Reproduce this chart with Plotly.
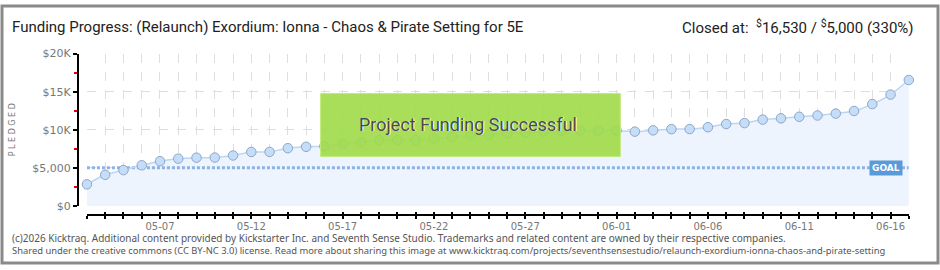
import pandas as pd
import plotly.graph_objects as go

# ---------------- data ----------------
start_date = "2025-05-03"
pledged = [2830, 4080, 4700, 5330, 5870, 6200, 6330, 6350, 6620, 7080,
           7090, 7580, 7760, 7830, 8120, 8370, 8620, 8630, 8640, 8830,
           9040, 9250, 9330, 9500, 9620, 9750, 9870, 9880, 9890, 9900,
           9750, 9920, 10080, 10090, 10330, 10750, 10870, 11330, 11500, 11700,
           11870, 12120, 12460, 13370, 14620, 16530]
goal = 5000
days = list(pd.date_range(start_date, periods=len(pledged)).strftime("%m-%d"))
x_tick_labels = ["05-07", "05-12", "05-17", "05-22", "05-27", "06-01", "06-06", "06-11", "06-16"]
y_tick_vals = [0, 5000, 10000, 15000, 20000]
y_tick_text = ["$0", "$5,000", "$10K", "$15K", "$20K"]

title_text = "Funding Progress: (Relaunch) Exordium: Ionna - Chaos &amp; Pirate Setting for 5E"
closed_text = "Closed at:  <sup>$</sup>16,530 / <sup>$</sup>5,000 (330%)"
footer1 = ("(c)2026 Kicktraq. Additional content provided by Kickstarter Inc. and Seventh Sense Studio. "
           "Trademarks and related content are owned by their respective companies.")
footer2 = ("Shared under the creative commons (CC BY-NC 3.0) license. Read more about sharing this image at "
           "www.kicktraq.com/projects/seventhsensestudio/relaunch-exordium-ionna-chaos-and-pirate-setting")

# ---------------- layout helpers (pixels -> paper) ----------------
W, H = 940, 270
def px(x): return x / W
def py(y): return 1 - y / H

grey = "#777777"
tick_text = [d if d in x_tick_labels else " " for d in days]

fig = go.Figure()

# area fill
fig.add_trace(go.Scatter(x=days, y=pledged, mode="none", fill="tozeroy",
                         fillcolor="#edf4fd", line_shape="spline",
                         hoverinfo="skip", showlegend=False))
# goal line
fig.add_trace(go.Scatter(x=[days[0], days[-1]], y=[goal, goal], mode="lines",
                         line=dict(color="#8db3e2", width=3, dash="3px,2px"),
                         hoverinfo="skip", showlegend=False, cliponaxis=False))
# pledged line + markers
fig.add_trace(go.Scatter(x=days, y=pledged, mode="lines+markers",
                         line=dict(color="#bad6f3", width=1.5, shape="spline", smoothing=0.6),
                         marker=dict(size=9.5, color="#c4ddf8", line=dict(color="#8fa7c6", width=1)),
                         cliponaxis=False, showlegend=False))
# invisible trace for the upward tick axis
fig.add_trace(go.Scatter(x=days, y=pledged, xaxis="x2", mode="none",
                         hoverinfo="skip", showlegend=False))

axis_font = dict(family="DejaVu Sans", size=10, color=grey)
x_domain = [px(85.3), px(910.7)]

fig.update_layout(
    width=W, height=H, autosize=False,
    margin=dict(l=0, r=0, t=0, b=0, pad=0),
    paper_bgcolor="white", plot_bgcolor="white",
    font=dict(family="DejaVu Sans", color="#333"),
    xaxis=dict(
        type="category", domain=x_domain, range=[0, len(days) - 1],
        anchor="free", position=py(220),
        tickmode="array", tickvals=days, ticktext=tick_text,
        showgrid=True, gridcolor="#dedede", griddash="dash", gridwidth=1,
        showline=True, linecolor="black", linewidth=1.5,
        ticks="outside", ticklen=3, tickcolor="black", tickwidth=1.5,
        ticklabelstandoff=-1,
        tickfont=axis_font, zeroline=False, tickangle=0,
    ),
    xaxis2=dict(
        type="category", overlaying="x", domain=x_domain, range=[0, len(days) - 1],
        anchor="free", position=py(220),
        tickmode="array", tickvals=days,
        showgrid=False, showline=False,
        ticks="inside", ticklen=3, tickcolor="black", tickwidth=1.5,
        showticklabels=False, zeroline=False,
    ),
    yaxis=dict(
        domain=[py(210), py(50)], range=[0, 20000],
        anchor="free", position=px(76),
        tickmode="array", tickvals=y_tick_vals, ticktext=y_tick_text,
        showgrid=True, gridcolor="#dedede", griddash="dash", gridwidth=1,
        showline=True, linecolor="black", linewidth=1.5,
        ticks="outside", ticklen=4, tickcolor="black", tickwidth=1.5,
        minor=dict(dtick=2500, tick0=0, ticks="outside", ticklen=3, tickcolor="#e00000",
                   tickwidth=1.5, showgrid=False),
        tickfont=dict(family="DejaVu Sans", size=11, color=grey),
        zeroline=False,
        title=dict(text="P L E D G E D", font=dict(family="DejaVu Sans", size=8, color=grey),
                   standoff=14),
    ),
    shapes=[
        # outer frame
        dict(type="rect", xref="paper", yref="paper", x0=0, x1=1, y0=0, y1=1,
             line=dict(color="#8a8a8a", width=3), fillcolor="rgba(0,0,0,0)", layer="above"),
        # success banner
        dict(type="rect", xref="paper", yref="paper",
             x0=px(320), x1=px(621), y0=py(158), y1=py(92),
             fillcolor="rgba(160,218,72,0.9)", line=dict(color="rgba(190,235,120,1)", width=1),
             layer="above"),
    ],
    annotations=[
        dict(xref="paper", yref="paper", x=px(8), y=py(22), xanchor="left", yanchor="middle",
             text=title_text, showarrow=False,
             font=dict(family="Roboto", size=15, color="#222")),
        dict(xref="paper", yref="paper", x=px(918), y=py(22), xanchor="right", yanchor="middle",
             text=closed_text, showarrow=False,
             font=dict(family="Roboto", size=15, color="#222")),
        dict(xref="paper", yref="paper", x=px(469), y=py(124), xanchor="center", yanchor="middle",
             text="Project Funding Successful", showarrow=False,
             font=dict(family="Roboto", size=18, color="white")),
        dict(xref="paper", yref="paper", x=px(468), y=py(125), xanchor="center", yanchor="middle",
             text="Project Funding Successful", showarrow=False,
             font=dict(family="Roboto", size=18, color="#4a4a4a")),
        dict(xref="paper", yref="paper", x=px(888), y=py(170), xanchor="center", yanchor="middle",
             text="<b>GOAL</b>", showarrow=False, bgcolor="#5b9ad8", borderpad=2,
             font=dict(family="DejaVu Sans", size=9, color="white")),
        dict(xref="paper", yref="paper", x=px(8), y=py(243.5), xanchor="left", yanchor="middle",
             text=footer1, showarrow=False,
             font=dict(family="Noto Sans", size=10, color="#555")),
        dict(xref="paper", yref="paper", x=px(8), y=py(256.5), xanchor="left", yanchor="middle",
             text=footer2, showarrow=False,
             font=dict(family="Noto Sans", size=9.4, color="#555")),
    ],
)

fig.write_html("out.html")
